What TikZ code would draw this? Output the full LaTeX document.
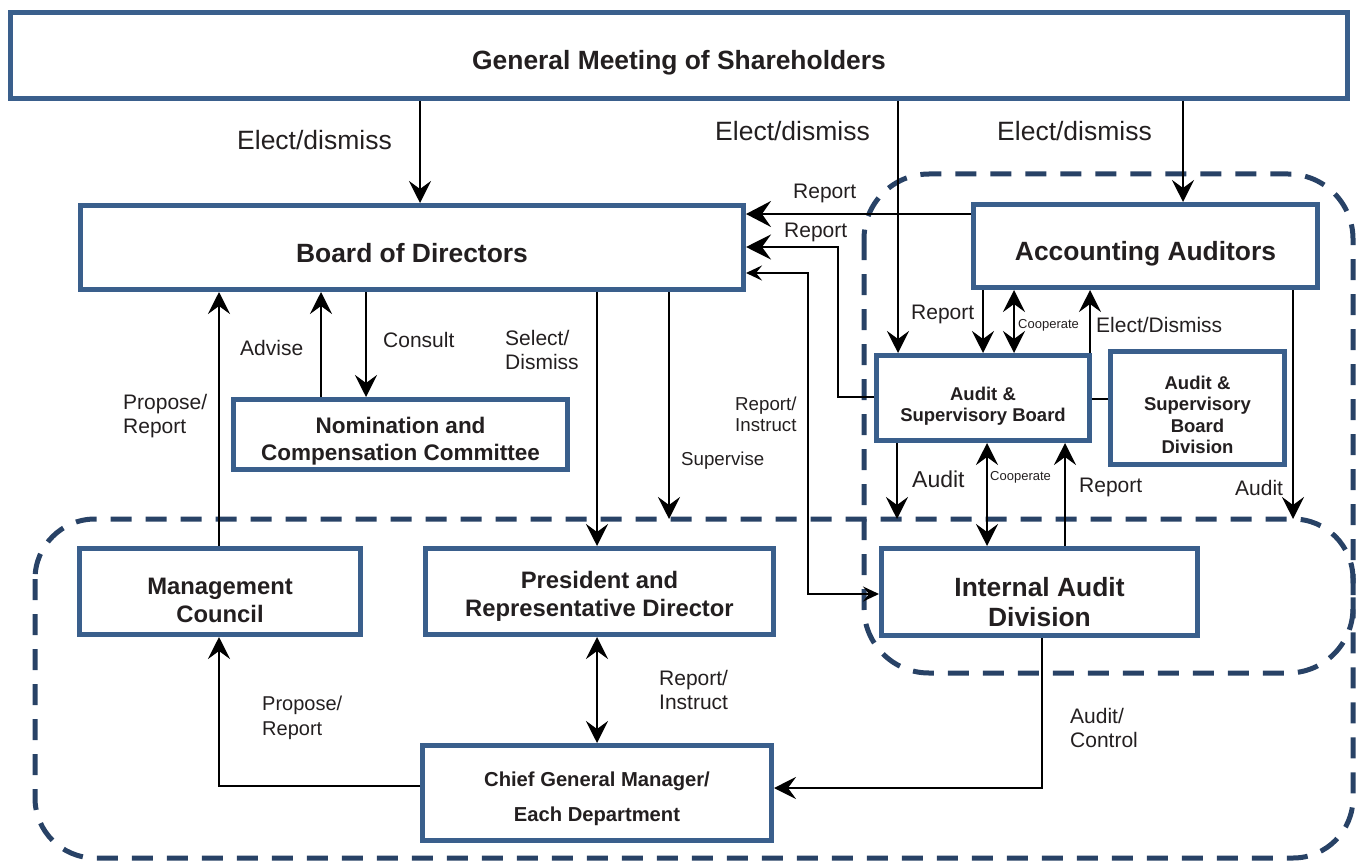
\documentclass[tikz,border=0pt]{standalone}
\usepackage{fontspec}
\setmainfont{Liberation Sans}
\usetikzlibrary{arrows.meta,calc}
\definecolor{boxblue}{RGB}{58,95,140}
\definecolor{dashblue}{RGB}{40,66,102}
\definecolor{txt}{RGB}{35,31,32}
\begin{document}
\begin{tikzpicture}[x=1pt,y=-1pt,
  box/.style={draw=boxblue, line width=5pt, fill=white, inner sep=0pt},
  btxt/.style={inner sep=0pt, align=center, text=txt},
  dashbox/.style={draw=dashblue, line width=5pt, dash pattern=on 21pt off 14pt},
  bigtip/.tip={Stealth[length=22pt,width=22pt,inset=8pt]},
  smalltip/.tip={Stealth[length=16pt,width=15pt,inset=6pt]},
  conn/.style={line width=2.6pt, -bigtip},
  dconn/.style={line width=2.6pt, bigtip-bigtip},
  plain/.style={line width=2.6pt},
  lbl/.style={inner sep=0pt, anchor=west, align=left, text=txt},
  fbig/.style={font=\fontsize{26.4}{30}\selectfont\bfseries},
  fmid/.style={font=\fontsize{23.8}{28}\selectfont\bfseries},
  fnom/.style={font=\fontsize{22.5}{27}\selectfont\bfseries},
  fsm/.style={font=\fontsize{18.5}{21.3}\selectfont\bfseries},
  fcgm/.style={font=\fontsize{20.2}{35}\selectfont\bfseries},
  lel/.style={font=\fontsize{26.5}{30}\selectfont},
  lreg/.style={font=\fontsize{21}{23.5}\selectfont},
  lsm/.style={font=\fontsize{18.7}{21}\selectfont},
  ltiny/.style={font=\fontsize{13}{15}\selectfont}
]
\useasboundingbox (0,0) rectangle (1359,861);

% dashed groups
\draw[dashbox, rounded corners=60pt] (35,519) rectangle (1353,858);
\draw[dashbox, rounded corners=65pt] (864,174) rectangle (1353,673);

% boxes
\node[box, minimum width=1337pt, minimum height=86pt] (gm) at (679,55.5) {};
\node[box, minimum width=663pt, minimum height=84pt] (bod) at (412,247.5) {};
\node[box, minimum width=344pt, minimum height=83pt] (aa) at (1145.5,246) {};
\node[box, minimum width=334pt, minimum height=70pt] (nom) at (400.5,434.5) {};
\node[box, minimum width=213pt, minimum height=85pt] (asb) at (983,398) {};
\node[box, minimum width=174pt, minimum height=113pt] (asbd) at (1197.5,408) {};
\node[box, minimum width=281pt, minimum height=86pt] (mc) at (220,591.5) {};
\node[box, minimum width=348pt, minimum height=86pt] (pres) at (599.5,591.5) {};
\node[box, minimum width=316pt, minimum height=87pt] (iad) at (1039.5,592) {};
\node[box, minimum width=349pt, minimum height=95pt] (cgm) at (597,793) {};

% box texts
\node[btxt, fbig] (tgm) at ([yshift=-7pt]gm.center) {General Meeting of Shareholders};
\node[btxt, fbig] (tbod) at ([yshift=-6pt]bod.center) {Board of Directors};
\node[btxt, fbig] (taa) at ([yshift=-8pt]aa.center) {Accounting Auditors};
\node[btxt, fnom] (tnom) at ([yshift=-7pt]nom.center) {Nomination and\\Compensation Committee};
\node[btxt, fsm] (tasb) at ([yshift=-8pt]asb.center) {Audit \&\\Supervisory Board};
\node[btxt, fsm] (tasbd) at ([yshift=-7pt]asbd.center) {Audit \&\\Supervisory\\Board\\Division};
\node[btxt, fmid] (tmc) at ([yshift=-9pt]mc.center) {Management\\Council};
\node[btxt, fmid] (tpres) at ([yshift=-5pt]pres.center) {President and\\Representative Director};
\node[btxt, fbig] (tiad) at ([yshift=-10pt]iad.center) {Internal Audit\\Division};
\node[btxt, fcgm] (tcgm) at ([yshift=-6pt]cgm.center) {Chief General Manager/\\Each Department};

% helper coordinates
\coordinate (v1) at (420,0);
\coordinate (v2) at (898,0);
\coordinate (v3) at (1183,0);
\coordinate (v4) at (366,0);
\coordinate (v5) at (321,0);
\coordinate (v6) at (219,0);
\coordinate (v7) at (597,0);
\coordinate (v8) at (669,0);
\coordinate (v9) at (983,0);
\coordinate (v10) at (1014,0);
\coordinate (v11) at (1090,0);
\coordinate (v12) at (897,0);
\coordinate (v13) at (987,0);
\coordinate (v14) at (1065,0);
\coordinate (v15) at (1293,0);
\coordinate (v16) at (838,0);
\coordinate (v17) at (808,0);
\coordinate (v18) at (1042,0);
\coordinate (h1) at (0,214);
\coordinate (h2) at (0,247);
\coordinate (h3) at (0,273);
\coordinate (h4) at (0,397);
\coordinate (h5) at (0,594);
\coordinate (h6) at (0,399);
\coordinate (h7) at (0,786);
\coordinate (h8) at (0,788);
\coordinate (dtop) at (0,519);

% connectors
\draw[conn] (gm.south -| v1) -- (bod.north -| v1);
\draw[conn] (gm.south -| v2) -- (asb.north -| v2);
\draw[conn] (gm.south -| v3) -- (aa.north -| v3);
\draw[line width=2.6pt, -{Stealth[length=25pt,width=26pt,inset=9pt]}] (aa.west |- h1) -- (bod.east |- h1);
\draw[line width=2.6pt, -{Stealth[length=25pt,width=25pt,inset=9pt]}] (asb.west |- h4) -| (v16 |- h2) -- (bod.east |- h2);
\draw[line width=2.6pt, smalltip-smalltip] (bod.east |- h3) -- (v17 |- h3) -- (v17 |- h5) -- (iad.west |- h5);
\draw[conn] (bod.south -| v4) -- (nom.north -| v4);
\draw[conn] (nom.north -| v5) -- (bod.south -| v5);
\draw[conn] (mc.north -| v6) -- (bod.south -| v6);
\draw[conn] (bod.south -| v7) -- (pres.north -| v7);
\draw[conn] (bod.south -| v8) -- (dtop -| v8);
\draw[conn] (aa.south -| v9) -- (asb.north -| v9);
\draw[dconn] (aa.south -| v10) -- (asb.north -| v10);
\draw[conn] (asb.north -| v11) -- (aa.south -| v11);
\draw[plain] (asb.east |- h6) -- (asbd.west |- h6);
\draw[conn] (asb.south -| v12) -- (dtop -| v12);
\draw[dconn] (asb.south -| v13) -- (iad.north -| v13);
\draw[conn] (iad.north -| v14) -- (asb.south -| v14);
\draw[conn] (aa.south -| v15) -- (dtop -| v15);
\draw[dconn] (pres.south -| v7) -- (cgm.north -| v7);
\draw[conn] (cgm.west |- h7) -| (mc.south -| v6);
\draw[conn] (iad.south -| v18) |- (cgm.east |- h8);

% labels
\node[lbl, lel] (l1) at (237,140) {Elect/dismiss};
\node[lbl, lel] (l2) at (715,131) {Elect/dismiss};
\node[lbl, lel] (l3) at (997,131) {Elect/dismiss};
\node[lbl, lreg] (l4) at (793,193) {Report};
\node[lbl, lreg] (l5) at (784,232) {Report};
\node[lbl, lsm] (l6) at (735,414) {Report/\\Instruct};
\node[lbl, lsm] (l7) at (681,461) {Supervise};
\node[lbl, lreg] (l8) at (383,340) {Consult};
\node[lbl, lreg] (l9) at (240,348) {Advise};
\node[lbl, lreg] (l10) at (123,416) {Propose/\\Report};
\node[lbl, lreg] (l11) at (505,350) {Select/\\Dismiss};
\node[lbl, lreg] (l12) at (911,314) {Report};
\node[lbl, ltiny] (l13) at (1018,325) {Cooperate};
\node[lbl, lreg] (l14) at (1096,325) {Elect/Dismiss};
\node[lbl, font=\fontsize{23}{26}\selectfont] (l15) at (912,479) {Audit};
\node[lbl, ltiny] (l16) at (990,477) {Cooperate};
\node[lbl, lreg] (l17) at (1079,487) {Report};
\node[lbl, lreg] (l18) at (1235,488) {Audit};
\node[lbl, lreg] (l19) at (659,690) {Report/\\Instruct};
\node[lbl, font=\fontsize{20}{25}\selectfont] (l20) at (262,718) {Propose/\\Report};
\node[lbl, lreg] (l21) at (1070,728) {Audit/\\Control};
\end{tikzpicture}
\end{document}
